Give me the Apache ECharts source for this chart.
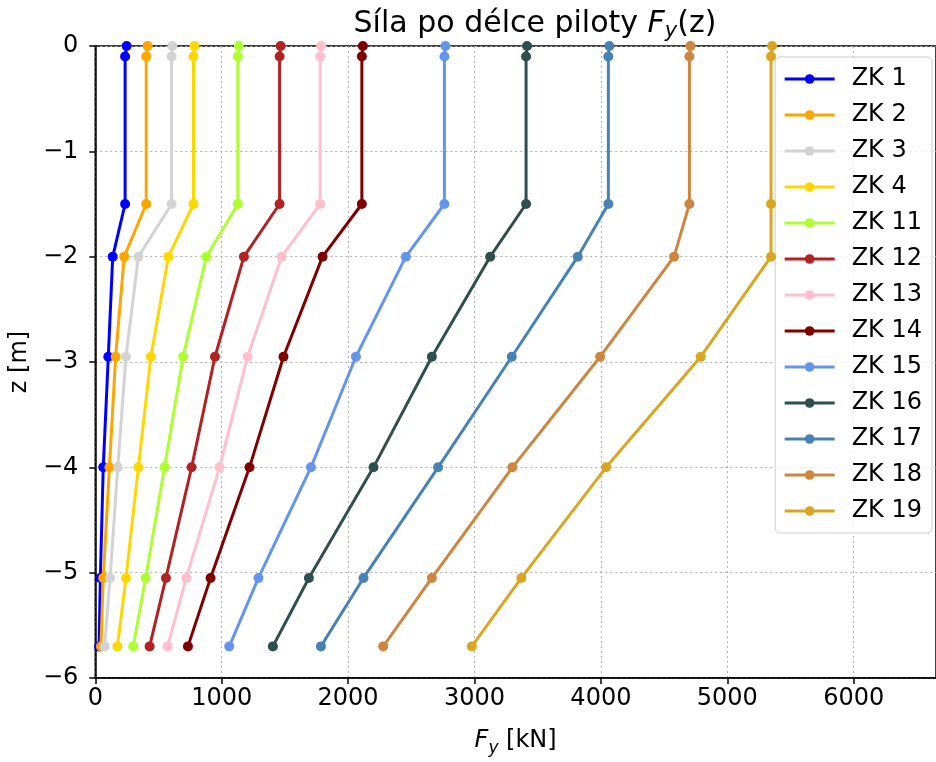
<!DOCTYPE html>
<html>
<head>
<meta charset="utf-8">
<style>
  html, body { margin: 0; padding: 0; background: #ffffff; }
  #chart { width: 936px; height: 762px; }
</style>
<script src="https://cdn.jsdelivr.net/npm/echarts@6/dist/echarts.min.js"></script>
</head>
<body>
<div id="chart"></div>
<script>
// Depth of each evaluation point along the pile [m]
const depths = [0, -0.1, -1.5, -2.0, -2.95, -4.0, -5.05, -5.7];

// Load case names and line colours
const caseNames = ['ZK 1', 'ZK 2', 'ZK 3', 'ZK 4', 'ZK 11', 'ZK 12', 'ZK 13',
                   'ZK 14', 'ZK 15', 'ZK 16', 'ZK 17', 'ZK 18', 'ZK 19'];
const caseColors = ['#0000ff', '#ffa500', '#d3d3d3', '#ffd700', '#adff2f', '#b22222', '#ffc0cb',
                    '#800000', '#6495ed', '#2f4f4f', '#4682b4', '#cd853f', '#daa520'];

// Force Fy [kN] at each depth, one array per load case
const zk1  = [248, 236, 236, 138, 103, 63, 40, 30];
const zk2  = [414, 403, 403, 229, 161, 112, 63, 45];
const zk3  = [610, 604, 604, 341, 243, 178, 117, 74];
const zk4  = [784, 777, 777, 578, 440, 341, 243, 175];
const zk11 = [1136, 1128, 1128, 878, 695, 548, 398, 300];
const zk12 = [1466, 1458, 1458, 1176, 947, 762, 559, 430];
const zk13 = [1787, 1779, 1779, 1474, 1205, 983, 720, 572];
const zk14 = [2117, 2109, 2109, 1798, 1489, 1220, 912, 733];
const zk15 = [2770, 2762, 2762, 2457, 2062, 1706, 1291, 1060];
const zk16 = [3416, 3408, 3408, 3124, 2663, 2201, 1690, 1405];
const zk17 = [4067, 4059, 4059, 3817, 3295, 2712, 2122, 1785];
const zk18 = [4708, 4700, 4700, 4579, 3994, 3300, 2663, 2278];
const zk19 = [5354, 5346, 5346, 5346, 4790, 4041, 3371, 2979];

const caseValues = [zk1, zk2, zk3, zk4, zk11, zk12, zk13, zk14, zk15, zk16, zk17, zk18, zk19];

// Axis settings
const xTickStep = 1000;
const xMax = 6651;
const yTickStep = 1;
const yMin = -6;
const yMax = 0;

const FONT = 'DejaVu Sans';
const FS = 24;       // tick, label and legend text
const FS_TITLE = 30;
const gridLine = { show: true, lineStyle: { color: '#b0b0b0', type: [2, 3], width: 1 } };

const series = caseNames.map((name, i) => ({
  name: name,
  type: 'line',
  data: caseValues[i].map((v, k) => [v, depths[k]]),
  color: caseColors[i],
  lineStyle: { width: 3, color: caseColors[i] },
  itemStyle: { color: caseColors[i] },
  symbol: 'circle',
  symbolSize: 10,
  showSymbol: true,
  clip: true,
  z: 3 + i
}));

const chart = echarts.init(document.getElementById('chart'), null, { renderer: 'canvas' });
chart.setOption({
  animation: false,
  backgroundColor: '#ffffff',
  title: {
    text: '{t|Síla po délce piloty }{i|F}{s|y}{t|(z)}',
    left: 530,
    textAlign: 'center',
    top: 1,
    textStyle: {
      fontWeight: 'normal',
      rich: {
        t: { fontFamily: FONT, fontSize: FS_TITLE, fontWeight: 'normal', color: '#000', lineHeight: 36 },
        i: { fontFamily: FONT, fontSize: FS_TITLE, fontWeight: 'normal', color: '#000', fontStyle: 'italic', lineHeight: 36 },
        s: { fontFamily: FONT, fontSize: 21, fontWeight: 'normal', color: '#000', fontStyle: 'italic', lineHeight: 21, verticalAlign: 'bottom' }
      }
    }
  },
  grid: {
    left: 95, top: 46, right: -1, bottom: 82,
    show: true, borderColor: '#000', borderWidth: 1.5, backgroundColor: 'transparent'
  },
  legend: {
    orient: 'vertical',
    right: 4,
    top: 57,
    data: caseNames,
    itemWidth: 50,
    itemHeight: 12,
    itemGap: 12,
    padding: [10, 10, 10, 8],
    borderColor: '#cccccc',
    borderWidth: 1,
    borderRadius: 5,
    backgroundColor: 'rgba(255,255,255,0.8)',
    lineStyle: { width: 3 },
    textStyle: { fontFamily: FONT, fontSize: FS, color: '#000', padding: [0, 0, 0, 12] },
    selectedMode: false
  },
  xAxis: {
    type: 'value',
    min: 0,
    max: xMax,
    interval: xTickStep,
    name: '{i|F}{s|y}{t| [kN]}',
    nameLocation: 'middle',
    nameGap: 47,
    nameTextStyle: {
      rich: {
        t: { fontFamily: FONT, fontSize: FS, color: '#000', lineHeight: 32 },
        i: { fontFamily: FONT, fontSize: FS, color: '#000', fontStyle: 'italic', lineHeight: 32 },
        s: { fontFamily: FONT, fontSize: 17, color: '#000', fontStyle: 'italic', lineHeight: 17, verticalAlign: 'bottom' }
      }
    },
    axisLine: { show: true, onZero: false, lineStyle: { color: '#000', width: 1.5 } },
    axisTick: { show: true, inside: false, length: 6, lineStyle: { color: '#000', width: 1.5 } },
    axisLabel: {
      fontFamily: FONT, fontSize: FS, color: '#000', margin: 9,
      showMaxLabel: false,
      formatter: v => (v % xTickStep === 0 ? String(v) : '')
    },
    splitLine: gridLine
  },
  yAxis: {
    type: 'value',
    min: yMin,
    max: yMax,
    interval: yTickStep,
    name: 'z [m]',
    nameLocation: 'middle',
    nameRotate: 90,
    nameGap: 60,
    nameTextStyle: { fontFamily: FONT, fontSize: FS, color: '#000' },
    axisLine: { show: true, onZero: false, lineStyle: { color: '#000', width: 1.5 } },
    axisTick: { show: true, inside: false, length: 6, lineStyle: { color: '#000', width: 1.5 } },
    axisLabel: {
      fontFamily: FONT, fontSize: FS, color: '#000', margin: 17,
      formatter: v => String(v).replace('-', '\u2212')
    },
    splitLine: gridLine
  },
  series: series
});
</script>
</body>
</html>
